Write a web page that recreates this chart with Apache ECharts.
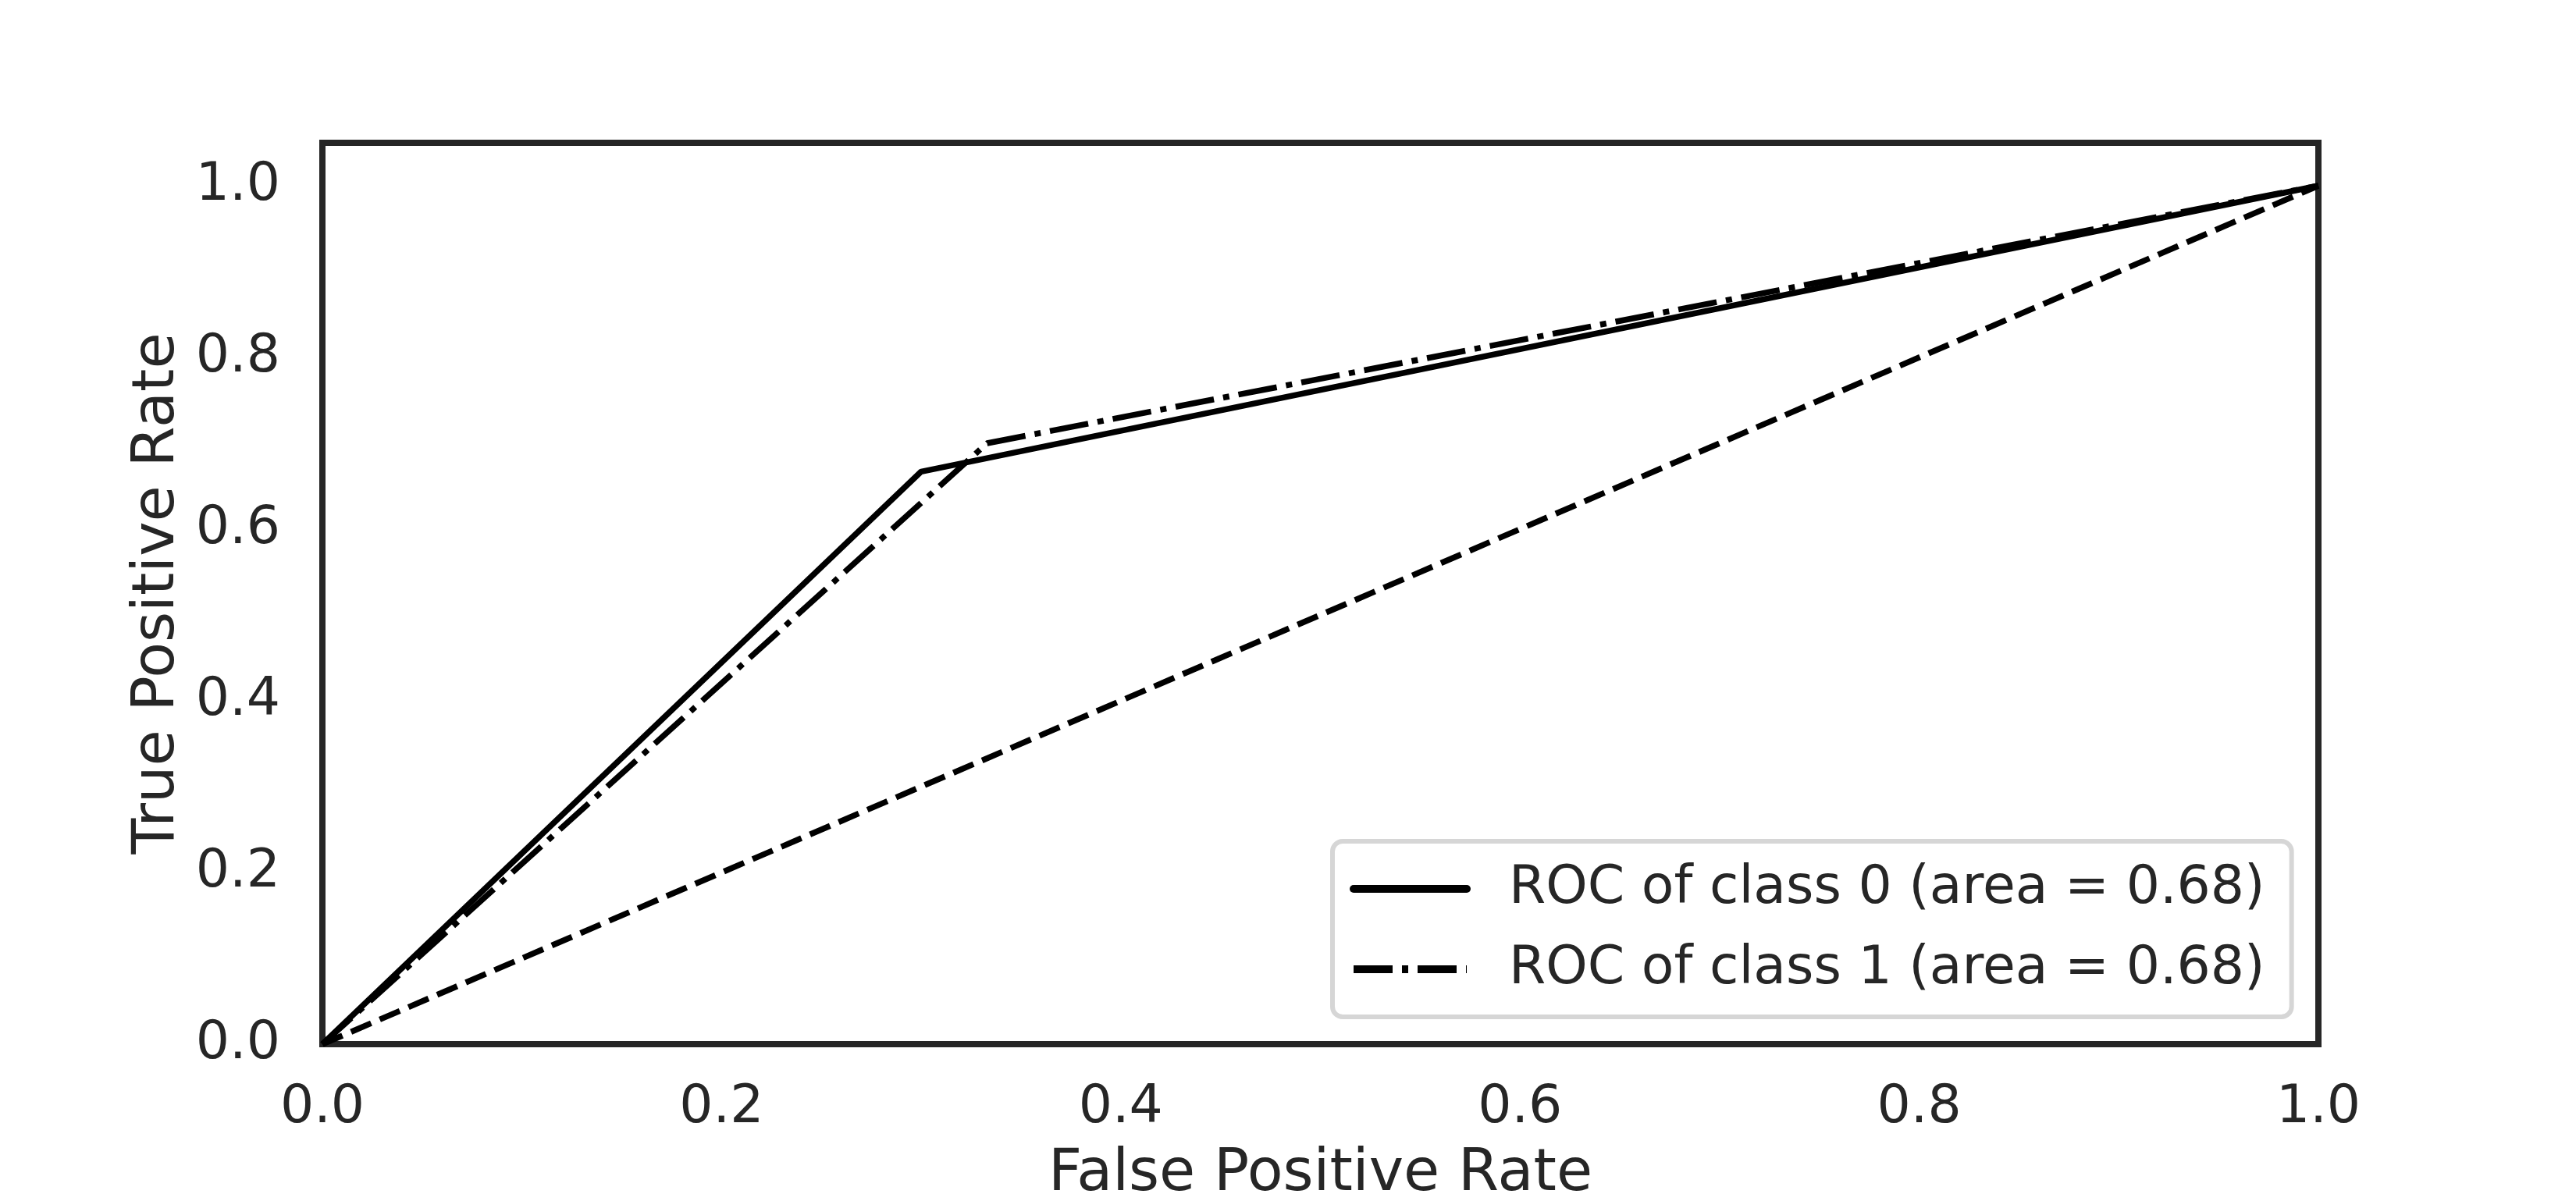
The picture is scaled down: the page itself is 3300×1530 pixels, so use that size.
<!DOCTYPE html>
<html>
<head>
<meta charset="utf-8">
<script src="https://cdn.jsdelivr.net/npm/echarts@6/dist/echarts.min.js"></script>
<style>
html,body{margin:0;padding:0;background:#fff;}
#chart{width:3300px;height:1530px;}
</style>
</head>
<body>
<div id="chart"></div>
<script>
// ROC curve points
const fpr0 = [0.0, 0.3, 1.0];
const tpr0 = [0.0, 0.667, 1.0];
const fpr1 = [0.0, 0.333, 1.0];
const tpr1 = [0.0, 0.70, 1.0];
const chanceX = [0.0, 1.0];
const chanceY = [0.0, 1.0];
const seriesNames = ['ROC of class 0 (area = 0.68)', 'ROC of class 1 (area = 0.68)'];
const xTicks = [0.0, 0.2, 0.4, 0.6, 0.8, 1.0];
const yTicks = [0.0, 0.2, 0.4, 0.6, 0.8, 1.0];

const pairs = (xs, ys) => xs.map((x, i) => [x, ys[i]]);
const FONT = 'DejaVu Sans';
const TXT = '#262626';

const chart = echarts.init(document.getElementById('chart'));
chart.setOption({
  backgroundColor: '#ffffff',
  animation: false,
  grid: {
    left: 413, right: 330, top: 183, bottom: 192,
    outerBoundsMode: 'none', containLabel: false,
    show: true, borderColor: '#262626', borderWidth: 8, backgroundColor: 'transparent'
  },
  xAxis: {
    type: 'value', min: 0, max: 1, interval: 0.2,
    name: 'False Positive Rate', nameLocation: 'middle', nameGap: 130,
    nameTextStyle: {fontSize: 75, color: TXT, fontFamily: FONT},
    axisLine: {show: false}, axisTick: {show: false}, splitLine: {show: false},
    axisLabel: {
      fontSize: 68, color: TXT, fontFamily: FONT, margin: 48,
      formatter: v => xTicks.some(t => Math.abs(t - v) < 1e-9) ? v.toFixed(1) : ''
    }
  },
  yAxis: {
    type: 'value', min: 0, max: 1.05, interval: 0.2,
    name: 'True Positive Rate', nameLocation: 'middle', nameGap: 172,
    nameTextStyle: {fontSize: 75, color: TXT, fontFamily: FONT},
    axisLine: {show: false}, axisTick: {show: false}, splitLine: {show: false},
    axisLabel: {
      fontSize: 68, color: TXT, fontFamily: FONT, margin: 54, showMaxLabel: false,
      formatter: v => yTicks.some(t => Math.abs(t - v) < 1e-9) ? v.toFixed(1) : ''
    }
  },
  legend: {
    data: [
      {name: seriesNames[0], lineStyle: {cap: 'round'}},
      {name: seriesNames[1]}
    ],
    orient: 'vertical', left: 1707, top: 1078,
    itemWidth: 145, itemHeight: 40, itemGap: 23,
    padding: [21, 34, 21, 22],
    backgroundColor: '#ffffff', borderColor: '#d6d6d6', borderWidth: 6, borderRadius: 13,
    lineStyle: {width: 10},
    itemStyle: {color: 'transparent', borderWidth: 0, opacity: 0},
    textStyle: {fontSize: 68, color: TXT, fontFamily: FONT, lineHeight: 80, padding: [0, 0, 0, 49]},
    selectedMode: false
  },
  series: [
    {
      name: seriesNames[0], type: 'line', data: pairs(fpr0, tpr0),
      symbol: 'none', lineStyle: {color: '#000', width: 7.5, type: 'solid'}, itemStyle: {color: '#000'}
    },
    {
      name: seriesNames[1], type: 'line', data: pairs(fpr1, tpr1),
      symbol: 'none', lineStyle: {color: '#000', width: 7.5, type: [50, 12, 8, 12], cap: 'butt'}, itemStyle: {color: '#000'}
    },
    {
      name: 'chance', type: 'line', data: pairs(chanceX, chanceY),
      symbol: 'none', lineStyle: {color: '#000', width: 7.5, type: [28, 12], cap: 'butt'}, itemStyle: {color: '#000'}
    }
  ]
});
</script>
</body>
</html>
